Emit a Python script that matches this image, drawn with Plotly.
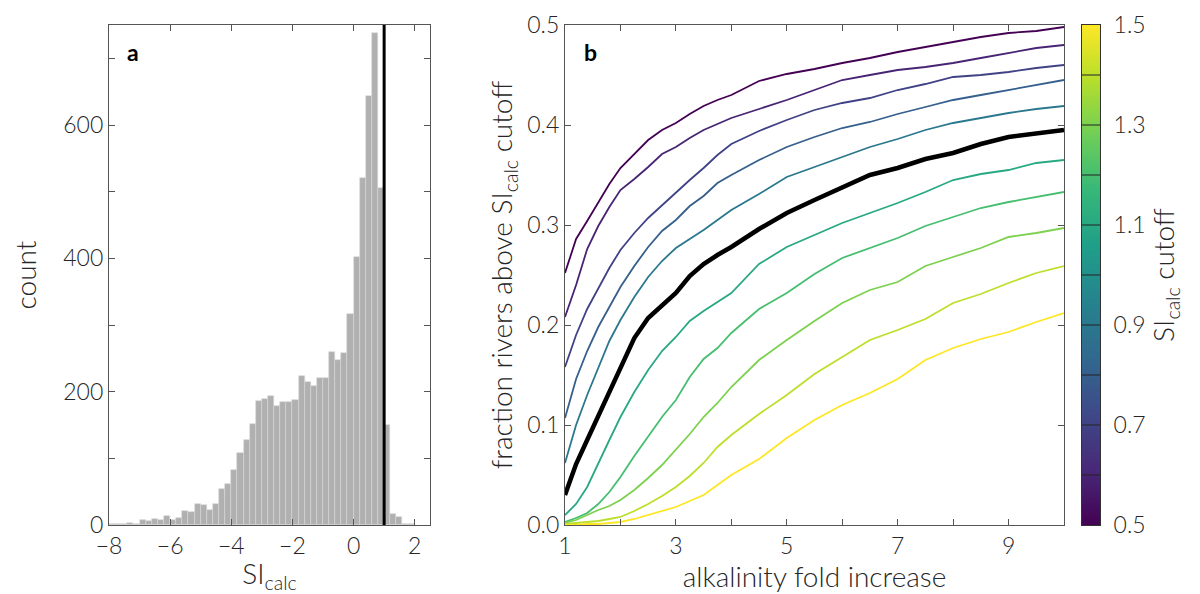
import numpy as np
import plotly.graph_objects as go
from plotly.colors import sample_colorscale

# ---------------- Panel a data: histogram of SI_calc ----------------
bin_width = 0.2
bin_start = -8.0
hist_counts = [1, 2, 2, 3, 1, 8, 6, 9, 8, 13,
               7, 11, 21, 20, 31, 30, 23, 31, 54, 61,
               83, 108, 128, 152, 186, 189, 194, 178, 185, 184,
               188, 223, 215, 209, 221, 221, 260, 248, 258, 316,
               402, 521, 643, 738, 505, 150, 16, 12, 1, 2]
si_cutoff_ref = 1.0

# ---------------- Panel b data ----------------
fold = [1, 1.2, 1.4, 1.6, 1.8, 2, 2.25, 2.5, 2.75, 3, 3.25, 3.5, 3.75, 4,
        4.5, 5, 5.5, 6, 6.5, 7, 7.5, 8, 8.5, 9, 9.5, 10]
cutoffs = [0.5, 0.6, 0.7, 0.8, 0.9, 1.0, 1.1, 1.2, 1.3, 1.4, 1.5]
frac_05 = [0.252, 0.286, 0.304, 0.322, 0.341, 0.357, 0.371, 0.385, 0.395, 0.402, 0.411, 0.419, 0.425, 0.430,
           0.444, 0.451, 0.456, 0.462, 0.467, 0.473, 0.478, 0.483, 0.488, 0.492, 0.494, 0.498]
frac_06 = [0.208, 0.240, 0.276, 0.299, 0.318, 0.335, 0.346, 0.358, 0.371, 0.378, 0.387, 0.395, 0.401, 0.407,
           0.416, 0.425, 0.435, 0.445, 0.450, 0.455, 0.458, 0.462, 0.467, 0.472, 0.477, 0.480]
frac_07 = [0.158, 0.190, 0.216, 0.237, 0.257, 0.275, 0.292, 0.307, 0.320, 0.332, 0.345, 0.357, 0.370, 0.381,
           0.394, 0.405, 0.415, 0.422, 0.427, 0.435, 0.441, 0.448, 0.450, 0.453, 0.457, 0.460]
frac_08 = [0.107, 0.146, 0.174, 0.198, 0.218, 0.238, 0.259, 0.278, 0.294, 0.305, 0.319, 0.329, 0.342, 0.350,
           0.365, 0.378, 0.388, 0.397, 0.403, 0.411, 0.418, 0.425, 0.430, 0.435, 0.440, 0.445]
frac_09 = [0.062, 0.100, 0.130, 0.158, 0.184, 0.205, 0.228, 0.248, 0.264, 0.277, 0.286, 0.295, 0.305, 0.315,
           0.331, 0.348, 0.358, 0.368, 0.378, 0.386, 0.395, 0.402, 0.407, 0.412, 0.416, 0.419]
frac_10 = [0.030, 0.061, 0.085, 0.109, 0.134, 0.158, 0.187, 0.207, 0.220, 0.232, 0.249, 0.261, 0.270, 0.278,
           0.296, 0.312, 0.325, 0.338, 0.350, 0.357, 0.366, 0.372, 0.381, 0.388, 0.391, 0.395]
frac_11 = [0.010, 0.021, 0.038, 0.062, 0.085, 0.108, 0.133, 0.155, 0.174, 0.188, 0.204, 0.214, 0.223, 0.232,
           0.261, 0.278, 0.290, 0.302, 0.312, 0.322, 0.333, 0.345, 0.351, 0.355, 0.362, 0.365]
frac_12 = [0.003, 0.007, 0.012, 0.021, 0.033, 0.048, 0.069, 0.089, 0.108, 0.125, 0.148, 0.166, 0.177, 0.192,
           0.216, 0.232, 0.251, 0.267, 0.277, 0.287, 0.299, 0.308, 0.317, 0.323, 0.328, 0.333]
frac_13 = [0.002, 0.005, 0.010, 0.015, 0.019, 0.025, 0.035, 0.047, 0.060, 0.075, 0.091, 0.108, 0.122, 0.138,
           0.165, 0.185, 0.204, 0.222, 0.235, 0.243, 0.259, 0.268, 0.277, 0.288, 0.292, 0.297]
frac_14 = [0.001, 0.002, 0.003, 0.004, 0.006, 0.008, 0.014, 0.021, 0.029, 0.038, 0.049, 0.062, 0.078, 0.090,
           0.111, 0.130, 0.151, 0.168, 0.185, 0.195, 0.206, 0.222, 0.231, 0.242, 0.252, 0.259]
frac_15 = [0.000, 0.000, 0.001, 0.001, 0.002, 0.003, 0.006, 0.010, 0.014, 0.018, 0.024, 0.030, 0.040, 0.050,
           0.066, 0.087, 0.105, 0.120, 0.132, 0.146, 0.165, 0.177, 0.186, 0.193, 0.203, 0.212]
series = [frac_05, frac_06, frac_07, frac_08, frac_09, frac_10,
          frac_11, frac_12, frac_13, frac_14, frac_15]

FONT = "Lato"
TXT = "#262626"
AXC = "#555555"

fig = go.Figure()

# Panel a histogram
centers = [bin_start + bin_width * (i + 0.5) for i in range(len(hist_counts))]
fig.add_trace(go.Bar(x=centers, y=hist_counts, width=bin_width,
                     marker=dict(color="#b0b0b0", line=dict(color="#d8d8d8", width=0.6)),
                     xaxis="x", yaxis="y", showlegend=False))
fig.add_shape(type="line", xref="x", yref="y domain", x0=si_cutoff_ref, x1=si_cutoff_ref,
              y0=0, y1=1, line=dict(color="black", width=3))

# Panel b lines
cmin, cmax = cutoffs[0], cutoffs[-1]
for c, ys in zip(cutoffs, series):
    if abs(c - si_cutoff_ref) < 1e-9:
        continue
    col = sample_colorscale("Viridis", [(c - cmin) / (cmax - cmin)])[0]
    fig.add_trace(go.Scatter(x=fold, y=ys, mode="lines", line=dict(color=col, width=1.8),
                             xaxis="x2", yaxis="y2", showlegend=False))
ref_idx = cutoffs.index(si_cutoff_ref)
fig.add_trace(go.Scatter(x=fold, y=series[ref_idx], mode="lines", line=dict(color="black", width=4.5),
                         xaxis="x2", yaxis="y2", showlegend=False))

# Colorbar as heatmap strip
grad = np.linspace(cmin, cmax, 201)
fig.add_trace(go.Heatmap(z=[[v] for v in grad], x=[0], y=grad, colorscale="Viridis",
                         zmin=cmin, zmax=cmax, showscale=False, xaxis="x3", yaxis="y3",
                         hoverinfo="skip"))
for c in cutoffs[1:-1]:
    fig.add_shape(type="line", xref="x3 domain", yref="y3", x0=0, x1=1, y0=c, y1=c,
                  line=dict(color="#222222", width=1))

W, H = 1200, 594
ydom = [1 - 525 / H, 1 - 25 / H]

TF = dict(family=FONT, size=23, color=TXT, weight=300)
TT = dict(family=FONT, size=28, color=TXT, weight=300)

def minor_ticks(vals):
    return dict(tickvals=vals, ticks="inside", ticklen=6, tickwidth=1.2, tickcolor=AXC)

common = dict(showline=True, linecolor=AXC, linewidth=1.3, mirror="allticks",
              ticks="inside", ticklen=6, tickwidth=1.2, tickcolor=AXC,
              showgrid=False, zeroline=False, automargin=False, tickfont=TF)

fig.update_layout(
    template="none",
    width=W, height=H, margin=dict(l=0, r=0, t=0, b=0, autoexpand=False),
    plot_bgcolor="white", paper_bgcolor="white", bargap=0, showlegend=False,
    font=dict(family=FONT, color=TXT),
    xaxis=dict(domain=[109 / W, 430 / W], range=[-8, 2.5], anchor="y",
               tickvals=[-8, -6, -4, -2, 0, 2],
               title=dict(text="SI<sub>calc</sub>", font=TT, standoff=2),
               **common),
    yaxis=dict(domain=ydom, range=[0, 750], anchor="x",
               tickvals=[0, 200, 400, 600], minor=minor_ticks([100, 300, 500, 700]),
               title=dict(text="count", font=TT, standoff=18),
               **common),
    xaxis2=dict(domain=[565 / W, 1064 / W], range=[1, 10], anchor="y2",
                tickvals=[1, 3, 5, 7, 9], minor=minor_ticks([2, 4, 6, 8, 10]),
                title=dict(text="alkalinity fold increase", font=TT, standoff=2),
                **common),
    yaxis2=dict(domain=ydom, range=[0, 0.5], anchor="x2",
                tickvals=[0, 0.1, 0.2, 0.3, 0.4, 0.5], tickformat=".1f",
                title=dict(text="fraction rivers above SI<sub>calc</sub> cutoff", font=TT, standoff=6),
                **common),
    xaxis3=dict(domain=[1082 / W, 1100 / W], range=[-0.5, 0.5], anchor="y3",
                showticklabels=False, ticks="", showline=True, linecolor="#333333",
                linewidth=1, mirror=True, showgrid=False, zeroline=False, automargin=False),
    yaxis3=dict(domain=ydom, range=[cmin, cmax], anchor="x3", side="right",
                tickvals=[0.5, 0.7, 0.9, 1.1, 1.3, 1.5], tickformat=".1f", ticks="",
                ticklabelstandoff=8,
                showline=True, linecolor="#333333", linewidth=1, mirror=True,
                showgrid=False, zeroline=False, automargin=False, tickfont=TF,
                title=dict(text="SI<sub>calc</sub> cutoff", font=TT, standoff=6)),
)

fig.add_annotation(text="<b>a</b>", xref="x domain", yref="y domain", x=0.05, y=0.978,
                   xanchor="left", yanchor="top", showarrow=False,
                   font=dict(size=23, family=FONT, color="black"))
fig.add_annotation(text="<b>b</b>", xref="x2 domain", yref="y2 domain", x=0.034, y=0.978,
                   xanchor="left", yanchor="top", showarrow=False,
                   font=dict(size=23, family=FONT, color="black"))

fig.write_html("out.html", config={"displayModeBar": False},
               post_script="document.body.style.margin='0px';")
